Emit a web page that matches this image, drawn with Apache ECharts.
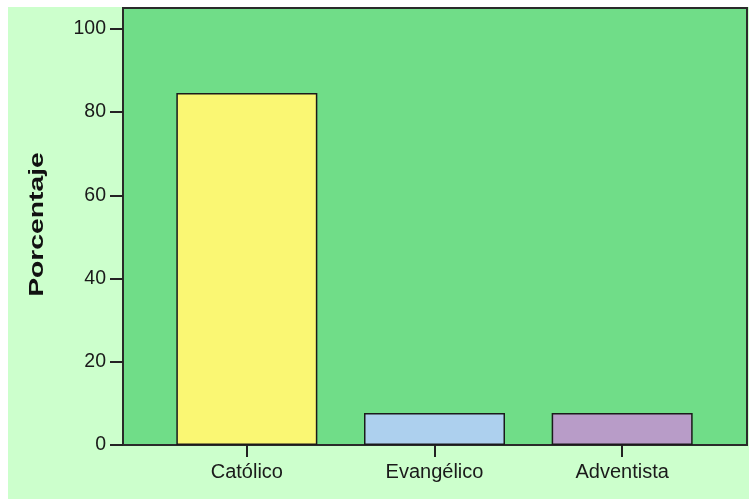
<!DOCTYPE html>
<html>
<head>
<meta charset="utf-8">
<script src="https://cdn.jsdelivr.net/npm/echarts@6/dist/echarts.min.js"></script>
<style>
html,body{margin:0;padding:0;background:#ffffff;}
#chart{width:749px;height:499px;}
</style>
</head>
<body>
<div id="chart"></div>
<script>
const categories = ['Católico', 'Evangélico', 'Adventista'];
const percentages = [84.6, 7.7, 7.7];
const yTickValues = [0, 20, 40, 60, 80, 100];
const yAxisTitle = 'Porcentaje';

const barColors = ['#faf773', '#add0ee', '#b89cc8'];
const FONT = '"Liberation Sans", Arial, sans-serif';

const chart = echarts.init(document.getElementById('chart'), null, {renderer: 'canvas'});
chart.setOption({
  animation: false,
  backgroundColor: 'transparent',
  graphic: [
    {type: 'rect', z: -100, silent: true, shape: {x: 8, y: 7, width: 741, height: 492}, style: {fill: '#ccffcc'}},
    {type: 'text', z: 100, x: 37.5, y: 224.5, rotation: Math.PI / 2, scaleX: 1.38, silent: true,
      style: {text: yAxisTitle, font: 'bold 20.5px ' + FONT, align: 'center', verticalAlign: 'middle', fill: '#111'}}
  ],
  grid: [
    {left: 123, top: 8, right: 2, bottom: 54, show: true, backgroundColor: '#70dd88', borderColor: '#2a2a2a', borderWidth: 2},
    {left: 153, top: 8, right: 33, bottom: 54}
  ],
  xAxis: [
    {gridIndex: 0, type: 'category', data: categories, show: false},
    {gridIndex: 1, type: 'category', data: categories, boundaryGap: true,
      axisLine: {show: false},
      axisTick: {show: true, alignWithLabel: true, length: 12, lineStyle: {color: '#222', width: 2}},
      axisLabel: {color: '#1a1a1a', fontSize: 20, fontFamily: FONT, margin: 17}}
  ],
  yAxis: [
    {gridIndex: 0, type: 'value', min: 0, max: 105,
      splitLine: {show: false},
      axisLine: {show: true, lineStyle: {color: '#2a2a2a', width: 2}},
      axisTick: {show: true, length: 13, customValues: yTickValues, lineStyle: {color: '#222', width: 2}},
      axisLabel: {color: '#1a1a1a', fontSize: 19.5, fontFamily: FONT, margin: 17, customValues: yTickValues}},
    {gridIndex: 1, type: 'value', min: 0, max: 105, show: false, splitLine: {show: false}}
  ],
  series: [{
    type: 'bar', xAxisIndex: 1, yAxisIndex: 1, barWidth: 141,
    data: percentages.map((v, i) => ({value: v, itemStyle: {color: barColors[i]}})),
    itemStyle: {borderColor: '#1a1a1a', borderWidth: 1.5}
  }]
});
</script>
</body>
</html>
